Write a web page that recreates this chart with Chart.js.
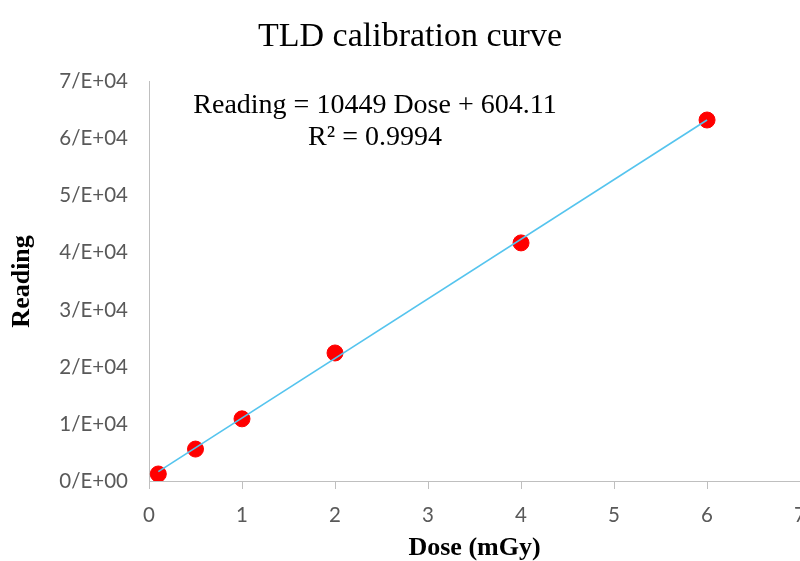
<!DOCTYPE html>
<html>
<head>
<meta charset="utf-8">
<script src="https://cdn.jsdelivr.net/npm/chart.js@4.4.0/dist/chart.umd.min.js"></script>
<style>
  html, body { margin: 0; padding: 0; background: #fff; overflow: hidden; }
</style>
</head>
<body>
<canvas id="tldChart" width="820" height="561"></canvas>
<script>
// measured points
let doseValues    = [0.1, 0.5, 1, 2, 4, 6];
let readingValues = [1230, 5600, 10900, 22450, 41750, 63300];
let yTickLabels   = ['0/E+00', '1/E+04', '2/E+04', '3/E+04', '4/E+04', '5/E+04', '6/E+04', '7/E+04'];
let xTickLabels   = ['0', '1', '2', '3', '4', '5', '6', '7'];
let trendSlope     = 10449;
let trendIntercept = 604.11;
let trendRange     = [0.1, 6];
let equationText  = 'Reading = 10449 Dose + 604.11';
let r2Text        = 'R² = 0.9994';

let points = doseValues.map((d, i) => ({x: d, y: readingValues[i]}));
let trendPoints = trendRange.map(d => ({x: d, y: trendSlope * d + trendIntercept}));

const tickFont = {family: 'Lato', size: 20.5};

// equation text drawn over the plot, like the excel label
const equationLabel = {
    id: 'equationLabel',
    afterDraw(chart) {
        const ctx = chart.ctx;
        const a = chart.chartArea;
        ctx.save();
        ctx.fillStyle = '#000';
        ctx.font = '28px "Liberation Serif"';
        ctx.textAlign = 'center';
        ctx.textBaseline = 'middle';
        ctx.fillText(equationText, a.left + 226, a.top + 24);
        ctx.fillText(r2Text, a.left + 226, a.top + 56);
        ctx.restore();
    }
};

new Chart(document.getElementById('tldChart'), {
    type: 'scatter',
    data: {
        datasets: [
            {
                type: 'line',
                label: 'trend',
                data: trendPoints,
                borderColor: '#55C4EE',
                borderWidth: 1.6,
                pointRadius: 0,
                fill: false
            },
            {
                label: 'Reading',
                data: points,
                backgroundColor: '#FF0000',
                borderColor: '#FF0000',
                pointRadius: 8,
                pointHoverRadius: 8
            }
        ]
    },
    options: {
        responsive: false,
        animation: false,
        layout: { padding: 0 },
        plugins: {
            legend: { display: false },
            tooltip: { enabled: false },
            title: {
                display: true,
                text: 'TLD calibration curve',
                color: '#000',
                font: {family: 'Liberation Serif', size: 34, weight: 'normal'},
                padding: {top: 17, bottom: 24}
            }
        },
        scales: {
            x: {
                type: 'linear',
                min: 0, max: 7,
                afterFit: s => { s.height = 80; },
                grid: { drawOnChartArea: false, drawTicks: true, tickLength: 8, color: '#bfbfbf' },
                border: { color: '#bfbfbf' },
                ticks: {
                    stepSize: 1, color: '#595959', font: tickFont, padding: 14, maxRotation: 0,
                    callback: (v, i) => xTickLabels[i]
                },
                title: {
                    display: true, text: 'Dose (mGy)', color: '#000',
                    font: {family: 'Liberation Serif', size: 26, weight: 'bold', lineHeight: 1},
                    padding: {top: 0, bottom: 0}
                }
            },
            y: {
                min: 0, max: 70000,
                afterFit: s => { s.width = 149; },
                grid: { drawOnChartArea: false, drawTicks: false, color: '#bfbfbf' },
                border: { color: '#bfbfbf' },
                ticks: {
                    stepSize: 10000, color: '#595959', font: tickFont, padding: 21,
                    callback: (v, i) => yTickLabels[i]
                },
                title: {
                    display: true, text: 'Reading', color: '#000',
                    font: {family: 'Liberation Serif', size: 26, weight: 'bold', lineHeight: 1},
                    padding: {top: 9, bottom: 0}
                }
            }
        }
    },
    plugins: [equationLabel]
});
</script>
</body>
</html>
